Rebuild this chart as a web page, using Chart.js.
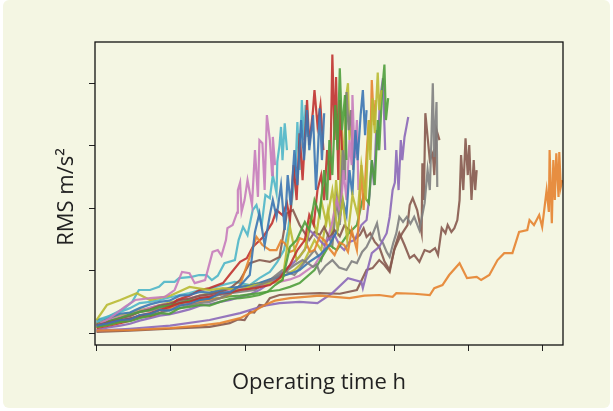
<!DOCTYPE html>
<html>
<head>
<meta charset="utf-8">
<script src="https://cdn.jsdelivr.net/npm/chart.js@4"></script>
<style>
  html, body { margin: 0; padding: 0; background: #ffffff; }
  #panel { position: absolute; left: 3px; top: 0; width: 607px; height: 408px; background: #f4f6e3; border-radius: 6px; }
  #wrap { position: absolute; left: 0; top: 0; width: 613px; height: 411px; }
  .axis-title { position: absolute; font-family: 'Open Sans', sans-serif; font-size: 22px; line-height: 22px; color: #222; white-space: nowrap; text-align: center; }
  #xTitle { left: 219px; top: 369px; width: 200px; }
  #yTitle { left: -36px; top: 186px; width: 200px; transform: rotate(-90deg); }
</style>
</head>
<body>
<div id="panel"></div>
<div id="wrap"><canvas id="rmsChart" width="613" height="411"></canvas></div>
<div class="axis-title" id="xTitle">Operating time h</div>
<div class="axis-title" id="yTitle">RMS m/s²</div>
<script>
// ---------------- data: [operating time h, RMS m/s²] ----------------
// muted tab10-like palette as seen in the picture
const palette = ['#3b76b3', '#e5832f', '#4f9f3c', '#c0322f', '#8b68b8', '#86594e', '#c77cbb', '#7f7f7f', '#b9ba33', '#4fb6c8'];
const xTicks = [0, 100, 200, 300, 400, 500, 600];
const yTicks = [0, 1, 2, 3, 4];

const blueA = [[0,0.12],[16,0.16],[32,0.21],[45,0.22],[58,0.29],[72,0.31],[85,0.37],[98,0.36],[112,0.44],[125,0.47],[139,0.53],[152,0.55],[166,0.64],[180,0.66],[193,0.76],[206,0.93],[213,1.62],[219,1.92],[226,1.41],[233,1.89],[237,2.13],[242,1.86],[248,2.37],[253,1.65],[257,2.53],[261,2.05],[266,2.93],[270,2.37],[275,3.41],[279,2.77],[283,3.57],[286,2.93],[291,3.49],[295,2.29],[298,3.01],[300,3.60],[303,2.77],[306,3.52]];
const orangeA = [[0,0.04],[45,0.05],[99,0.08],[139,0.12],[166,0.16],[193,0.24],[213,0.36],[226,0.45],[240,0.52],[260,0.56],[280,0.58],[300,0.60],[320,0.58],[340,0.56],[360,0.60],[380,0.61],[398,0.58],[403,0.64],[427,0.63],[448,0.61],[454,0.72],[465,0.77],[474,0.93],[488,1.12],[498,0.88],[511,0.90],[517,0.85],[528,0.93],[539,1.17],[548,1.28],[559,1.28],[568,1.62],[579,1.65],[582,1.81],[588,1.73],[595,1.89],[599,1.70],[605,2.29],[608,1.94],[609,2.93],[612,1.76],[614,2.77],[616,2.13],[618,2.88],[621,2.18],[622,2.90],[624,2.34],[626,2.45]];
const greenA = [[0,0.10],[16,0.13],[32,0.18],[45,0.19],[58,0.24],[72,0.28],[85,0.32],[98,0.31],[112,0.40],[125,0.42],[139,0.45],[152,0.44],[166,0.50],[180,0.55],[193,0.56],[206,0.58],[219,0.61],[230,0.66],[240,0.77],[250,0.85],[260,1.38],[269,1.49],[280,1.78],[286,1.65],[293,2.13],[300,1.89],[306,2.61],[310,2.13],[313,3.09],[317,2.53],[321,3.65],[324,2.93],[327,4.24],[330,3.25],[334,3.81],[336,2.77]];
const redA = [[0,0.13],[16,0.17],[32,0.21],[45,0.23],[58,0.28],[72,0.32],[85,0.37],[98,0.42],[112,0.48],[125,0.50],[139,0.56],[152,0.58],[166,0.63],[180,0.65],[193,0.69],[213,0.72],[233,0.77],[246,0.88],[260,1.09],[270,1.33],[280,1.49],[286,1.89],[292,1.73],[297,2.29],[302,2.53],[306,2.13],[310,2.93],[314,2.45],[317,4.46],[320,3.09],[322,4.10],[325,2.45],[327,3.73],[330,2.93]];
const purpleB = [[0,0.04],[45,0.07],[99,0.12],[152,0.21],[193,0.32],[226,0.44],[246,0.48],[273,0.50],[297,0.48],[317,0.64],[338,0.88],[356,0.82],[358,0.72],[363,0.96],[370,1.28],[380,1.38],[390,1.60],[394,1.86],[398,2.29],[401,2.41],[403,2.93],[406,2.29],[409,3.09],[411,2.77],[414,3.14],[417,3.33],[419,3.46]];
const brownA = [[0,0.02],[45,0.04],[99,0.07],[152,0.10],[179,0.16],[190,0.22],[199,0.21],[206,0.34],[212,0.33],[219,0.45],[226,0.44],[233,0.56],[246,0.61],[273,0.63],[300,0.64],[327,0.63],[350,0.69],[363,1.01],[371,1.04],[380,1.17],[387,1.09],[394,0.98],[401,1.38],[407,1.60],[414,1.41],[421,1.20],[427,1.25],[434,1.14],[441,1.33],[448,1.30],[455,1.36],[459,1.25],[464,1.68],[469,1.60],[472,1.73],[477,1.62],[481,1.68],[485,1.81],[488,2.13],[490,2.85],[493,2.29],[496,3.12],[499,2.53],[501,3.01],[504,2.13],[507,2.77],[509,2.29],[511,2.61]];
const pinkA = [[0,0.12],[18,0.24],[38,0.42],[52,0.53],[72,0.56],[92,0.58],[105,0.69],[115,0.98],[125,0.96],[132,0.80],[146,0.85],[156,1.30],[163,1.33],[168,1.24],[174,1.49],[176,1.68],[183,1.73],[189,1.93],[190,2.29],[193,2.41],[195,1.94],[199,2.13],[203,2.45],[209,2.05],[213,2.93],[217,2.18],[219,3.09],[223,3.04],[226,2.29],[229,3.49],[233,3.09],[236,2.53],[237,3.14],[240,2.69]];
const grayA = [[0,0.12],[16,0.15],[32,0.20],[45,0.24],[58,0.26],[72,0.30],[85,0.32],[98,0.37],[112,0.40],[125,0.44],[139,0.48],[152,0.50],[166,0.56],[180,0.64],[193,0.69],[206,0.71],[219,0.77],[233,0.84],[246,0.93],[256,1.00],[266,1.09],[277,1.17],[284,1.12],[291,1.06],[296,1.10],[300,0.96],[308,1.08],[317,1.17],[326,1.05],[336,1.01],[343,1.15],[350,1.12],[357,1.30],[363,1.38],[370,1.55],[377,1.76],[381,1.50],[385,1.44],[390,1.30],[394,1.22],[399,1.45],[403,1.60],[407,1.86],[412,1.78],[417,1.86],[422,1.75],[427,1.86],[434,1.65],[441,2.08],[445,2.61],[448,2.29],[450,3.04],[452,4.00],[454,2.82],[457,3.70],[458,2.34]];
const oliveA = [[0,0.21],[14,0.45],[32,0.53],[54,0.64],[72,0.53],[99,0.60],[125,0.74],[152,0.69],[170,0.72],[193,0.69],[213,0.77],[233,0.80],[250,0.85],[260,1.70],[269,1.17],[280,1.33],[289,1.89],[296,1.60],[302,2.13],[309,1.76],[317,2.29],[324,1.65],[331,2.13],[337,1.49],[344,2.21],[351,1.89],[356,2.69],[362,2.13],[366,3.41],[368,2.77],[371,3.76],[374,3.20],[378,4.17],[380,3.57],[383,3.89]];
const cyanA = [[0,0.18],[18,0.28],[38,0.40],[48,0.50],[57,0.69],[72,0.69],[84,0.74],[91,0.82],[105,0.82],[111,0.88],[128,0.90],[138,0.93],[148,0.93],[155,0.85],[163,0.92],[172,1.12],[186,1.17],[191,1.49],[197,1.70],[203,1.57],[210,1.97],[215,2.05],[222,1.73],[227,2.21],[233,2.16],[237,2.53],[242,2.24],[243,2.74],[246,3.01],[248,3.30],[250,2.77],[253,3.36],[256,2.93]];
const blueB = [[0,0.20],[16,0.24],[32,0.31],[45,0.33],[58,0.40],[72,0.46],[85,0.50],[98,0.52],[112,0.60],[125,0.61],[139,0.66],[152,0.65],[166,0.69],[180,0.73],[193,0.74],[206,0.76],[219,0.80],[233,0.86],[246,0.90],[260,0.95],[273,1.01],[286,1.14],[300,1.25],[313,1.41],[324,1.65],[331,2.13],[336,1.89],[340,2.61],[344,2.21],[348,3.25],[351,2.77],[355,3.49],[358,3.89],[361,3.17],[363,3.57]];
const orangeB = [[0,0.10],[16,0.13],[32,0.18],[45,0.22],[58,0.28],[72,0.31],[85,0.37],[98,0.40],[112,0.45],[125,0.46],[139,0.50],[152,0.53],[166,0.56],[180,0.62],[193,0.77],[206,1.22],[215,1.54],[223,1.41],[233,1.33],[242,1.33],[248,1.48],[253,1.44],[260,1.30],[266,1.33],[273,1.52],[280,1.49],[287,1.30],[293,1.33],[300,1.55],[306,1.49],[313,1.35],[320,1.25],[327,1.45],[333,1.41],[338,1.30],[343,1.65],[350,1.33],[354,2.13],[356,2.69],[359,1.97],[363,2.85],[366,3.41],[368,2.93],[370,4.05],[373,3.33],[375,3.73]];
const greenB = [[0,0.15],[16,0.19],[32,0.24],[45,0.30],[58,0.34],[72,0.37],[85,0.42],[98,0.44],[112,0.48],[125,0.52],[139,0.53],[152,0.55],[166,0.56],[180,0.59],[193,0.60],[206,0.62],[219,0.64],[233,0.67],[246,0.69],[260,0.74],[273,0.80],[293,1.01],[313,1.41],[323,1.33],[337,1.57],[350,1.73],[359,2.21],[366,2.08],[370,2.77],[374,2.37],[378,3.41],[380,2.93],[384,3.89],[387,4.30],[389,3.41],[392,3.76]];
const redB = [[0,0.08],[16,0.12],[32,0.16],[45,0.20],[58,0.26],[72,0.27],[85,0.32],[98,0.40],[108,0.53],[125,0.60],[139,0.69],[152,0.72],[170,0.80],[180,0.95],[193,1.14],[202,1.20],[210,1.38],[224,1.54],[236,1.76],[242,1.97],[250,1.89],[256,2.08],[260,1.81],[265,2.69],[269,2.13],[273,3.20],[277,2.45],[283,3.73],[286,3.01],[291,3.57],[293,3.89],[297,3.33],[301,3.65],[305,2.93]];
const purpleA = [[0,0.05],[16,0.09],[32,0.12],[45,0.15],[58,0.20],[72,0.24],[85,0.28],[98,0.30],[112,0.34],[125,0.38],[139,0.44],[152,0.46],[166,0.50],[180,0.53],[193,0.58],[206,0.62],[219,0.69],[233,0.80],[246,0.93],[266,1.14],[273,1.22],[282,1.38],[286,1.65],[296,1.54],[306,1.41],[313,1.52],[320,1.57],[327,1.40],[333,1.33],[340,1.46],[347,1.49],[356,1.73],[363,1.81],[367,2.21],[370,2.77],[373,2.37],[376,3.25],[378,2.93],[381,3.73],[385,4.08],[388,2.93]];
const brownB = [[0,0.13],[16,0.18],[32,0.24],[45,0.27],[58,0.34],[72,0.38],[85,0.44],[98,0.47],[112,0.53],[125,0.55],[139,0.60],[152,0.62],[166,0.66],[180,0.72],[193,0.85],[206,1.12],[219,1.17],[233,1.14],[246,1.22],[256,1.92],[264,1.97],[273,1.73],[286,1.49],[293,1.62],[300,1.57],[306,1.70],[313,1.52],[320,1.65],[327,1.55],[333,1.72],[340,1.65],[347,1.50],[354,1.57],[359,1.68],[363,1.54],[368,1.60],[374,1.46],[380,1.38],[387,1.15],[394,1.01],[400,1.33],[406,1.49],[411,1.60],[418,1.73],[421,2.05],[425,2.16],[431,1.97],[437,1.60],[438,2.72],[440,2.13],[442,3.52],[445,3.14],[448,2.77],[452,2.88],[454,2.53],[457,3.25],[461,3.09]];
const pinkB = [[0,0.16],[16,0.20],[32,0.26],[45,0.30],[58,0.35],[72,0.41],[85,0.45],[98,0.47],[112,0.53],[125,0.56],[139,0.60],[152,0.61],[166,0.66],[180,0.69],[193,0.71],[206,0.73],[219,0.76],[233,0.80],[246,0.82],[260,0.86],[273,0.92],[293,1.09],[306,1.33],[316,1.73],[323,2.13],[328,1.89],[332,2.61],[336,2.13],[340,3.09],[343,2.69],[344,3.81],[347,2.80],[350,3.41],[352,2.29]];
const grayB = [[0,0.15],[16,0.20],[32,0.24],[45,0.29],[58,0.34],[72,0.36],[85,0.40],[98,0.45],[112,0.50],[125,0.52],[139,0.56],[152,0.58],[166,0.61],[180,0.64],[193,0.66],[213,0.69],[233,0.85],[250,1.01],[266,0.93],[280,1.14],[293,1.33],[302,1.17],[311,1.57],[317,1.41],[323,2.13],[327,1.73],[331,2.93],[334,2.45],[336,3.86],[339,3.25],[342,3.57],[345,2.61]];
const oliveB = [[0,0.16],[16,0.22],[32,0.28],[45,0.32],[58,0.37],[72,0.40],[85,0.45],[98,0.49],[112,0.53],[125,0.55],[139,0.60],[152,0.64],[166,0.68],[180,0.70],[193,0.74],[206,0.77],[219,0.80],[233,0.84],[246,0.88],[266,1.01],[280,1.17],[293,1.49],[302,1.33],[311,1.97],[317,1.49],[322,2.45],[326,1.89],[330,3.25],[333,2.61],[335,3.73],[338,4.00],[340,3.09],[343,3.57]];
const cyanB = [[0,0.21],[16,0.27],[32,0.34],[45,0.40],[58,0.48],[72,0.50],[85,0.53],[98,0.57],[112,0.61],[125,0.64],[139,0.69],[152,0.71],[166,0.76],[186,0.82],[206,0.77],[219,0.88],[233,0.98],[243,1.14],[252,1.33],[257,1.62],[262,2.05],[265,2.37],[268,2.77],[270,3.38],[273,2.61],[276,3.73],[279,3.09],[281,3.65],[284,3.14]];

const runs = [blueA, orangeA, greenA, redA, purpleB, brownA, pinkA, grayA, oliveA, cyanA,
              blueB, orangeB, greenB, redB, purpleA, brownB, pinkB, grayB, oliveB, cyanB];

// ---------------- chart ----------------
const frame = {
  id: 'frame',
  afterDatasetsDraw(chart) {
    const { ctx, chartArea: a } = chart;
    ctx.save();
    ctx.strokeStyle = '#111';
    ctx.lineWidth = 1.3;
    ctx.strokeRect(a.left, a.top, a.right - a.left, a.bottom - a.top);
    ctx.restore();
  }
};

const datasets = runs.map((run, i) => ({
  data: run.map(p => ({ x: p[0], y: p[1] })),
  borderColor: palette[i % 10] + 'e6',
  borderWidth: 2.2,
  pointRadius: 0,
  tension: 0,
  fill: false
}));

new Chart(document.getElementById('rmsChart').getContext('2d'), {
  type: 'line',
  data: { datasets },
  plugins: [frame],
  options: {
    responsive: false,
    animation: false,
    layout: { padding: { top: 42, right: 50, left: 0, bottom: 0 } },
    plugins: { legend: { display: false }, tooltip: { enabled: false } },
    scales: {
      x: {
        type: 'linear',
        min: -2,
        max: 627,
        afterBuildTicks: s => { s.ticks = xTicks.map(v => ({ value: v })); },
        afterFit: s => { s.height = 66; },
        ticks: { display: false },
        grid: { drawOnChartArea: false, drawTicks: true, tickLength: 6, color: '#222' },
        border: { display: false }
      },
      y: {
        type: 'linear',
        min: -0.19,
        max: 4.66,
        afterBuildTicks: s => { s.ticks = yTicks.map(v => ({ value: v })); },
        afterFit: s => { s.width = 95; },
        ticks: { display: false },
        grid: { drawOnChartArea: false, drawTicks: true, tickLength: 6, color: '#222' },
        border: { display: false }
      }
    }
  }
});
</script>
</body>
</html>
